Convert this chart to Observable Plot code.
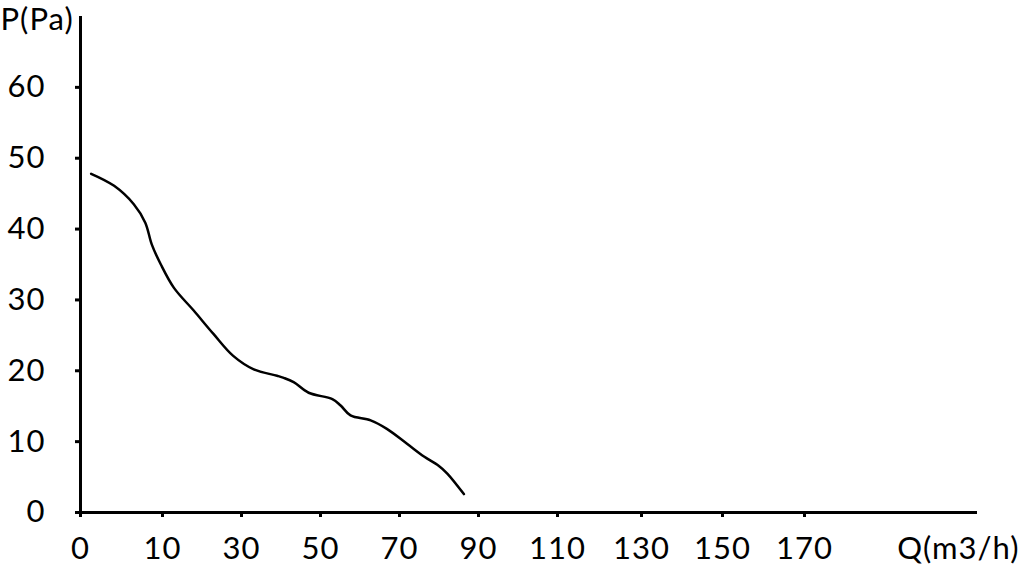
<!DOCTYPE html>
<html>
<head>
<meta charset="utf-8">
<script src="https://cdn.jsdelivr.net/npm/d3@7"></script>
<script src="https://cdn.jsdelivr.net/npm/@observablehq/plot@0.6"></script>
<style>
  html, body { margin: 0; padding: 0; background: #fff; }
</style>
</head>
<body>
<div id="chart"></div>
<script>
// Flow Q (m3/h) and pressure P (Pa)
const Q = [1.3, 4.1, 6.5, 7.9, 8.7, 9.8, 12.9, 17.9, 22.9, 27.9, 33.1, 39.0, 40.7, 43.2, 47.0, 53.0, 55.1, 57.6, 62.7, 66.8, 71.9, 76.2, 79.9, 82.1, 86.3];
const P = [47.8, 46.1, 43.5, 40.9, 37.8, 35.0, 31.7, 28.5, 25.2, 22.1, 20.2, 19.3, 19.0, 18.4, 16.9, 16.0, 15.1, 13.7, 13.0, 11.8, 9.7, 7.9, 6.6, 5.5, 2.6];

const xTicks = [0, 10, 30, 50, 70, 90, 110, 130, 150, 170];
const yTicks = [0, 10, 20, 30, 40, 50, 60];
const xLabel = "Q(m3/h)";
const yLabel = "P(Pa)";

const data = Q.map((q, i) => ({q, p: P[i]}));
const font = "Lato, 'Open Sans', sans-serif";

const chart = Plot.plot({
  width: 1019,
  height: 565,
  marginLeft: 80,
  marginRight: 42,
  marginTop: 16,
  marginBottom: 53,
  style: {fontFamily: font, fontSize: "31px", letterSpacing: "1px", color: "#000", background: "#fff"},
  x: {
    type: "linear",
    domain: [0, 10, 30, 50, 70, 90, 110, 130, 150, 170, 214],
    range: [80, 162, 241, 320, 399, 478, 557, 641, 722, 804, 977]
  },
  y: {domain: [0, 70]},
  marks: [
    Plot.axisX({ticks: xTicks, tickSize: 5, tickPadding: 19, strokeWidth: 3, label: null, fontSize: 31, tickFormat: d => String(d)}),
    Plot.axisY({ticks: yTicks, tickSize: 5, tickPadding: 30, strokeWidth: 3, label: null, fontSize: 31, tickFormat: d => String(d)}),
    Plot.ruleY([0], {stroke: "#000", strokeWidth: 3}),
    Plot.ruleX([0], {stroke: "#000", strokeWidth: 3}),
    Plot.line(data, {x: "q", y: "p", curve: "catmull-rom", stroke: "#000", strokeWidth: 2.5}),
    Plot.text([yLabel], {frameAnchor: "top-left", text: d => d, dx: -80, dy: -9, textAnchor: "start", lineAnchor: "top", fontSize: 31, fill: "#000"}),
    Plot.text([xLabel], {frameAnchor: "bottom-right", text: d => d, dx: 42, dy: 24, textAnchor: "end", lineAnchor: "top", fontSize: 31, fill: "#000"})
  ]
});
document.getElementById("chart").appendChild(chart);
</script>
</body>
</html>
